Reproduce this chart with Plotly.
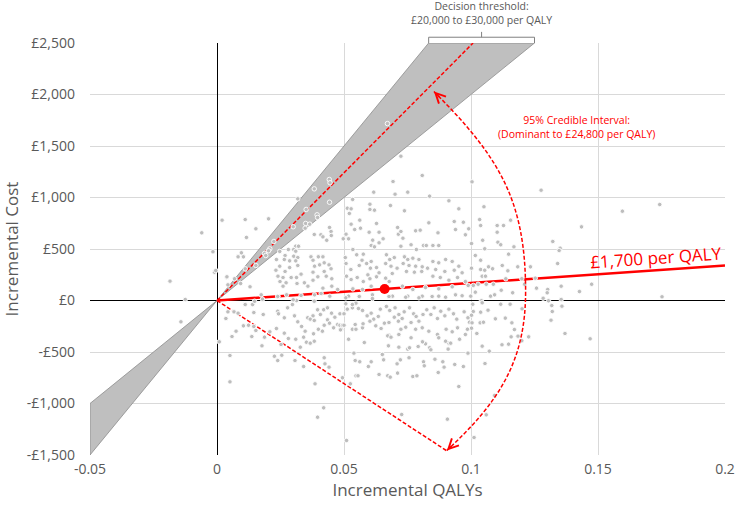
import plotly.graph_objects as go

# PSA draws (incremental QALYs, incremental cost in £)
inc_qaly = [
    0.1004, 0.1276, 0.1596, 0.1743, 0.1051, 0.1034, 0.1156, 0.1103, 0.1128, 0.1038,
    0.1103, 0.1435, 0.1046, 0.1002, 0.1106, 0.1117, 0.1322, 0.1351, 0.1347, 0.1169,
    0.1054, 0.1148, 0.1017, 0.1341, 0.1038, 0.1069, 0.1123, 0.1184, 0.1234, 0.1002,
    0.1038, 0.1054, 0.1085, 0.1145, 0.1044, 0.1057, 0.1137, 0.1253, 0.1200, 0.1060,
    0.1088, 0.1211, 0.1475, 0.1009, 0.1028, 0.1258, 0.1355, 0.1119, 0.1164, 0.1017,
    0.1302, 0.1300, 0.1427, 0.1077, 0.1093, 0.1752, 0.1284, 0.1305, 0.1355, 0.1041,
    0.1044, 0.1007, 0.1117, 0.1154, 0.1318, 0.1358, 0.1201, 0.1009, 0.1038, 0.1067,
    0.1320, 0.1096, 0.1135, 0.1161, 0.1315, 0.0994, 0.1004, 0.1036, 0.1049, 0.1002,
    0.1023, 0.1370, 0.1171, 0.1185, 0.1227, 0.1200, 0.1158, 0.1122, 0.1148, 0.1469,
    0.1044, 0.1072, 0.1055, 0.1093, 0.1060, 0.1012,
    # inside the threshold wedge
    0.0383, 0.0442, 0.0445, 0.0443, 0.0351, 0.0394, 0.0396, 0.0300, 0.0349, 0.0347,
    0.0318, 0.0224, 0.0208, 0.0203, 0.0187, 0.0192, 0.0153, 0.0111, 0.0069, 0.0043,
    0.0671,
    # upper left
    0.0020, 0.0111, 0.0153, 0.0116, 0.0203, 0.0383, 0.0409, 0.0443, 0.0449, 0.0417,
    0.0432, 0.0450, 0.0365, 0.0310, 0.0321, 0.0281, 0.0302, 0.0310, 0.0096, 0.0083,
    0.0104, 0.0247, 0.0268, 0.0234, 0.0265, 0.0302, 0.0318, 0.0286, 0.0310, 0.0318,
    0.0286, 0.0247, 0.0268, 0.0232, 0.0370, 0.0378, 0.0399, 0.0417, 0.0384, 0.0404,
    0.0422, 0.0441, 0.0378, 0.0422, 0.0449, 0.0430, 0.0397, 0.0452, 0.0378, 0.0240,
    0.0260, 0.0248, 0.0272, 0.0260, 0.0292, 0.0313, 0.0331, 0.0344, 0.0358, 0.0315,
    0.0417, 0.0452, 0.0475, 0.0038, 0.0093, 0.0130, -0.0010, 0.0174, 0.0240, 0.0274,
    0.0331, 0.0384, 0.0410, 0.0444,
    # upper middle
    0.0724, 0.0808, 0.0693, 0.0617, 0.0701, 0.0751, 0.0837, 0.0534, 0.0513, 0.0528,
    0.0521, 0.0602, 0.0683, 0.0602, 0.0620, 0.0738, 0.0913, 0.0952, 0.0562, 0.0528,
    0.0542, 0.0565, 0.0508, 0.0497, 0.0518, 0.0628, 0.0599, 0.0638, 0.0654, 0.0613,
    0.0711, 0.0714, 0.0724, 0.0732, 0.0782, 0.0800, 0.0834, 0.0870, 0.0934, 0.0939,
    0.0970, 0.0978, 0.0991, 0.0764, 0.0813, 0.0824, 0.0850, 0.0873, 0.0785, 0.0724,
    0.0607, 0.0620, 0.0638, 0.0535, 0.0550, 0.0576, 0.0571, 0.0505, 0.0508, 0.0527,
    0.0560, 0.0589, 0.0607, 0.0604, 0.0628, 0.0638, 0.0594, 0.0667, 0.0680, 0.0698,
    0.0664, 0.0685, 0.0709, 0.0690, 0.0664, 0.0678, 0.0738, 0.0751, 0.0771, 0.0795,
    0.0733, 0.0756, 0.0782, 0.0808, 0.0746, 0.0777, 0.0806, 0.0829, 0.0850, 0.0873,
    0.0900, 0.0926, 0.0952, 0.0861, 0.0897, 0.0934, 0.0965, 0.0850, 0.0879, 0.0913,
    0.0947, 0.0978, 0.0510, 0.0528, 0.0552, 0.0576, 0.0602, 0.0628, 0.0535, 0.0573,
    0.0607, 0.0730, 0.0771, 0.0821, 0.0873, 0.0926, 0.0989, 0.0518, 0.0560, 0.0612,
    0.0691, 0.0751, 0.0808, 0.0873, 0.0939, 0.0999,
    # lower left
    0.0009, 0.0035, 0.0051, 0.0051, 0.0059, 0.0075, 0.0043, 0.0067, 0.0083, 0.0111,
    0.0140, 0.0145, 0.0104, 0.0124, 0.0145, 0.0153, 0.0137, 0.0182, 0.0187, 0.0177,
    0.0208, 0.0234, 0.0239, 0.0242, 0.0265, 0.0278, 0.0297, 0.0313, 0.0265, 0.0281,
    0.0252, 0.0226, 0.0239, 0.0255, 0.0310, 0.0307, 0.0341, 0.0328, 0.0352, 0.0305,
    0.0318, 0.0333, 0.0347, 0.0357, 0.0378, 0.0367, 0.0383, 0.0396, 0.0407, 0.0420,
    0.0435, 0.0451, 0.0464, 0.0435, 0.0422, 0.0443, 0.0459, 0.0475, 0.0490, 0.0399,
    0.0415, 0.0380, 0.0367, 0.0383, 0.0422, 0.0425, 0.0441, 0.0341, 0.0386, 0.0420,
    0.0396, 0.0148, 0.0179, 0.0239, 0.0300, 0.0383,
    # lower middle
    0.0510, 0.0727, 0.0907, 0.0952, 0.0494, 0.0525, 0.0547, 0.0555, 0.0638, 0.0672,
    0.0682, 0.0771, 0.0787, 0.0711, 0.0596, 0.0607, 0.0544, 0.0562, 0.0539, 0.0651,
    0.0656, 0.0709, 0.0722, 0.0756, 0.0813, 0.0816, 0.0858, 0.0871, 0.0889, 0.0894,
    0.0936, 0.0970, 0.0988, 0.0913, 0.0920, 0.0910, 0.0837, 0.0842, 0.0792, 0.0821,
    0.0751, 0.0758, 0.0716, 0.0675, 0.0677, 0.0672, 0.0685, 0.0580, 0.0518, 0.0533,
    0.0547, 0.0573, 0.0575, 0.0544, 0.0484, 0.0494, 0.0500, 0.0486, 0.0484, 0.0500,
    0.0513, 0.0533, 0.0547, 0.0557, 0.0573, 0.0533, 0.0507, 0.0591, 0.0607, 0.0617,
    0.0635, 0.0643, 0.0602, 0.0625, 0.0646, 0.0659, 0.0667, 0.0680, 0.0701, 0.0716,
    0.0698, 0.0677, 0.0714, 0.0729, 0.0737, 0.0758, 0.0774, 0.0784, 0.0764, 0.0795,
    0.0811, 0.0826, 0.0842, 0.0855, 0.0868, 0.0881, 0.0897, 0.0913, 0.0931, 0.0944,
    0.0973, 0.0988, 0.1002, 0.0724, 0.0743, 0.0782, 0.0808, 0.0834, 0.0868, 0.0902,
    0.0926, 0.0947, 0.0978, 0.0716, 0.0764, 0.0809, 0.0873, 0.0900, 0.0955, 0.0986,
    0.0507, 0.0560, 0.0612, 0.0677, 0.0743, 0.0795, 0.0847, 0.0900, 0.0965,
    # left of the y axis and stragglers
    -0.0060, -0.0016, -0.0005, -0.0185, -0.0125, -0.0142, 0.0039,
]
inc_cost = [
    1152, 1071, 867, 932, 910, 786, 780, 728, 728, 728,
    663, 715, 585, 553, 566, 541, 573, 508, 485, 521,
    502, 450, 437, 359, 391, 327, 340, 327, 327, 314,
    301, 294, 308, 288, 236, 236, 211, 217, 211, 158,
    158, 158, 158, 146, 158, 120, 139, 100, 75, 81,
    107, 75, 87, 42, 55, 36, 22, -3, 10, -3,
    -22, -36, -36, -36, -49, -55, -81, -107, -113, -94,
    -107, -178, -171, -217, -191, -211, -217, -217, -211, -269,
    -320, -320, -282, -346, -353, -391, -353, -430, -424, -372,
    -443, -492, -612, -922, -1110, -1330,
    1084, 1175, 1143, 954, 884, 832, 806, 716, 748, 702,
    987, 573, 502, 483, 456, 437, 340, 308, 211, 152,
    1718,
    780, 786, 696, 612, 793, 641, 638, 709, 670, 618,
    585, 631, 741, 527, 527, 495, 495, 479, 463, 424,
    424, 476, 437, 398, 398, 430, 417, 385, 385, 340,
    320, 333, 282, 294, 424, 391, 424, 424, 333, 346,
    366, 346, 275, 282, 308, 236, 230, 211, 197, 236,
    223, 184, 172, 139, 223, 223, 256, 172, 139, 165,
    120, 139, 107, 223, 165, 133, 275, 55, 42, 55,
    49, 55, 68, 42,
    1401, 1214, 1155, 1052, 1032, 1052, 1013, 981, 896, 890,
    845, 935, 922, 884, 877, 871, 968, 890, 780, 741,
    689, 702, 644, 599, 599, 748, 663, 663, 599, 586,
    709, 644, 670, 605, 677, 683, 754, 657, 767, 689,
    760, 638, 696, 541, 534, 534, 534, 534, 495, 527,
    534, 521, 560, 495, 444, 450, 391, 417, 359, 301,
    340, 359, 379, 314, 320, 269, 249, 444, 398, 417,
    359, 333, 314, 262, 217, 184, 424, 398, 411, 398,
    359, 340, 333, 327, 282, 275, 282, 314, 379, 366,
    398, 379, 333, 301, 282, 294, 269, 236, 223, 197,
    223, 184, 236, 204, 223, 184, 211, 230, 113, 107,
    139, 139, 107, 126, 113, 133, 146, 42, 42, 55,
    42, 42, 42, 42, 55, 42,
    -401, -175, -534, -790, -350, -298, -110, -110, -123, -39,
    -39, -117, -246, -240, -252, -291, -350, -136, -356, -440,
    -304, -272, -104, -129, -168, -71, -39, 0, -317, -369,
    -427, -541, -583, -531, -376, -583, -356, -453, -405, -149,
    -207, -252, -298, -168, -149, -181, -194, -90, -136, -90,
    -71, -123, -162, -188, -240, -220, -265, -233, -279, -279,
    -298, -323, -414, -395, -556, -615, -647, -641, -809, -1042,
    -1133, -7, 13, 39, 7, -7,
    -1359, -1107, -1152, -835, -750, -809, -731, -731, -718, -731,
    -744, -738, -731, -705, -641, -595, -583, -595, -511, -524,
    -576, -615, -576, -556, -595, -634, -570, -699, -595, -647,
    -621, -641, -511, -414, -414, -472, -459, -479, -447, -421,
    -472, -459, -453, -440, -337, -343, -356, -408, -376, -279,
    -279, -265, -226, -233, -240, -240, -240, -285, -129, -129,
    -84, -71, -26, -78, -97, -39, -32, -149, -123, -181,
    -155, -84, -201, -246, -272, -220, -58, -97, -71, -136,
    -162, -214, -201, -175, -110, -71, -129, -155, -214, -201,
    -136, -90, -136, -71, -175, -104, -149, -84, -129, -181,
    -110, -168, -143, -279, -259, -279, -265, -298, -330, -279,
    -304, -265, -330, -330, -362, -401, -362, -395, -376, -279,
    26, 39, 19, 39, 32, 26, 39, 32, 46,
    657, 473, 291, 188, 10, -207, 230,
]

# summary results
mean_qaly = [0.066]
mean_cost = [112]
icer_mean = 1700          # £ per QALY
icer_upper = 24800        # upper end of the 95% credible interval
threshold_low = 20000
threshold_high = 30000
lower_ci_end = (0.0905, -1460)   # "dominant" end of the interval arrow

x_range = [-0.05, 0.2]
y_range = [-1500, 2500]
x_ticks = [-0.05, 0, 0.05, 0.1, 0.15, 0.2]
x_ticktext = ['-0.05', '0', '0.05', '0.1', '0.15', '0.2']
y_ticks = [-1500, -1000, -500, 0, 500, 1000, 1500, 2000, 2500]
y_ticktext = ['-£1,500', '-£1,000', '-£500', '£0', '£500', '£1,000', '£1,500', '£2,000', '£2,500']

# curved interval arrow (two cubic segments, data coordinates)
arc_pts = [(0.0854, 2029), (0.1109, 1398), (0.1215, 981), (0.1215, 87),
           (0.1215, -592), (0.1109, -990), (0.0905, -1456)]

RED = '#ff0000'
GREY_TXT = '#595959'
FONT = 'Open Sans'

fig = go.Figure()

# threshold wedge (upper right and lower left parts)
fig.add_trace(go.Scatter(
    x=[0, y_range[1] / threshold_high, y_range[1] / threshold_low, 0],
    y=[0, y_range[1], y_range[1], 0],
    mode='lines', fill='toself', fillcolor='#bfbfbf',
    line=dict(color='#8c8c8c', width=0.8), hoverinfo='skip', showlegend=False))
fig.add_trace(go.Scatter(
    x=[0, x_range[0], x_range[0], 0],
    y=[0, x_range[0] * threshold_low, x_range[0] * threshold_high, 0],
    mode='lines', fill='toself', fillcolor='#bfbfbf',
    line=dict(color='#8c8c8c', width=0.8), hoverinfo='skip', showlegend=False))

# ICER lines (drawn under the points so the white marker rims break them)
fig.add_trace(go.Scatter(
    x=[0, x_range[1]], y=[0, x_range[1] * icer_mean],
    mode='lines', line=dict(color=RED, width=2.5), hoverinfo='skip', showlegend=False))
fig.add_trace(go.Scatter(
    x=[0, y_range[1] / icer_upper], y=[0, y_range[1]],
    mode='lines', line=dict(color=RED, width=1.5, dash='4px,2px'), hoverinfo='skip', showlegend=False))
fig.add_trace(go.Scatter(
    x=[0, lower_ci_end[0]], y=[0, lower_ci_end[1]],
    mode='lines', line=dict(color=RED, width=1.5, dash='4px,2px'), hoverinfo='skip', showlegend=False))

# PSA cloud
fig.add_trace(go.Scatter(
    x=inc_qaly, y=inc_cost, mode='markers',
    marker=dict(size=4.5, color='#bdbdbd', line=dict(color='white', width=0.9)),
    showlegend=False))

# mean
fig.add_trace(go.Scatter(
    x=mean_qaly, y=mean_cost, mode='markers',
    marker=dict(size=10, color=RED), showlegend=False))

p = arc_pts
arc_path = (f'M {p[0][0]},{p[0][1]} C {p[1][0]},{p[1][1]} {p[2][0]},{p[2][1]} {p[3][0]},{p[3][1]} '
            f'C {p[4][0]},{p[4][1]} {p[5][0]},{p[5][1]} {p[6][0]},{p[6][1]}')

x_lo = y_range[1] / threshold_high
x_hi = y_range[1] / threshold_low
x_mid = (x_lo + x_hi) / 2
bracket = (f'M {x_lo},1.0 L {x_lo},1.014 L {x_hi},1.014 L {x_hi},1.0 '
           f'M {x_mid},1.014 L {x_mid},1.027')

fig.update_layout(
    width=736, height=511,
    margin=dict(l=90, r=11, t=43, b=56),
    paper_bgcolor='white', plot_bgcolor='white',
    font=dict(family=FONT, color=GREY_TXT),
    xaxis=dict(range=x_range, tickvals=x_ticks, ticktext=x_ticktext, automargin=False,
               showgrid=True, gridcolor='#d9d9d9', gridwidth=1,
               zeroline=True, zerolinecolor='black', zerolinewidth=1.2,
               showline=False, ticks='', tickfont=dict(size=14, color=GREY_TXT),
               ticklabelstandoff=4,
               title=dict(text='Incremental QALYs', font=dict(size=17, color=GREY_TXT), standoff=6)),
    yaxis=dict(range=y_range, tickvals=y_ticks, ticktext=y_ticktext, automargin=False,
               showgrid=True, gridcolor='#d9d9d9', gridwidth=1,
               zeroline=True, zerolinecolor='black', zerolinewidth=1.2,
               showline=False, ticks='', tickfont=dict(size=14, color=GREY_TXT),
               ticklabelstandoff=14,
               title=dict(text='Incremental Cost', font=dict(size=17, color=GREY_TXT), standoff=4)),
    shapes=[
        dict(type='path', path=arc_path, xref='x', yref='y', layer='above',
             line=dict(color=RED, width=1.5, dash='4px,2px')),
        dict(type='path', path=bracket, xref='x', yref='paper', layer='above',
             fillcolor='rgba(0,0,0,0)', line=dict(color='#808080', width=1)),
    ],
    annotations=[
        dict(x=p[0][0], y=p[0][1], ax=7, ay=7, text='', showarrow=True,
             arrowhead=5, arrowsize=1.3, arrowwidth=1.5, arrowcolor=RED),
        dict(x=p[6][0], y=p[6][1], ax=6, ay=-6, text='', showarrow=True,
             arrowhead=5, arrowsize=1.3, arrowwidth=1.5, arrowcolor=RED),
        dict(x=0.173, y=420, text='£1,700 per QALY', showarrow=False, textangle=-4,
             font=dict(size=17, color=RED)),
        dict(x=0.1415, y=1680, text='95% Credible Interval:<br>(Dominant to £24,800 per QALY)',
             showarrow=False, font=dict(size=10.5, color=RED)),
        dict(x=x_mid, y=1.034, xref='x', yref='paper', yanchor='bottom',
             text='Decision threshold:<br>£20,000 to £30,000 per QALY',
             showarrow=False, font=dict(size=10.5, color=GREY_TXT)),
    ],
)

# drop the default page margin so the 736x511 figure fills the window exactly
fig.write_html('out.html', config={'displayModeBar': False},
               post_script="document.body.style.margin='0';")
